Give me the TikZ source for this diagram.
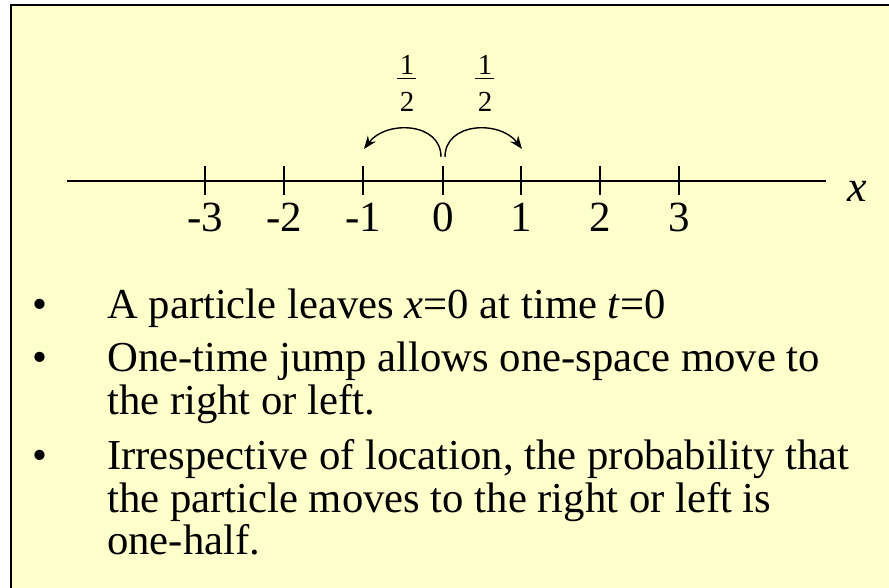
\documentclass[tikz,border=0pt]{standalone}
\usepackage{fontspec}
\setmainfont{Liberation Serif}
\usetikzlibrary{arrows.meta}
\definecolor{bgyellow}{RGB}{255,255,204}
\begin{document}
\begin{tikzpicture}[x=1pt,y=1pt,
  axisline/.style={line width=1.4pt},
  tickmark/.style={line width=1.4pt},
  ticklab/.style={font=\fontsize{43}{43}\selectfont, anchor=base, inner sep=0pt},
  fraclab/.style={font=\fontsize{29}{29}\selectfont, anchor=base, inner sep=0pt},
  fracbar/.style={line width=1pt},
  bodytext/.style={font=\fontsize{42.7}{42}\selectfont, anchor=base west, inner sep=0pt},
  bulletmark/.style={font=\fontsize{42.7}{42}\selectfont, anchor=base, inner sep=0pt},
  jump/.style={line width=1.4pt, -{Stealth[length=13pt,width=10pt]}}
]
\useasboundingbox (0,0) rectangle (889,588);
\fill[white] (0,0) rectangle (889,588);
\draw[fill=bgyellow, line width=2pt] (11,-20) rectangle (910,583);

% axis
\coordinate (axL) at (67,407);
\coordinate (axR) at (826,407);
\draw[axisline] (axL) -- (axR);
\node[font=\fontsize{44}{44}\selectfont\itshape, anchor=base, inner sep=0pt] (xlab) at (857,386) {x};

% ticks and labels
\foreach \v/\px in {-3/205,-2/284,-1/363,0/443,1/521,2/600,3/679}{
  \draw[tickmark] (\px,393) -- (\px,422);
  \node[ticklab] (lab\v) at (\px,356) {\v};
}

% fractions
\node[fraclab] (numL) at (407,513) {1};
\node[fraclab] (denL) at (407,476) {2};
\draw[fracbar] (397,509) -- (416,509);
\node[fraclab] (numR) at (485,513) {1};
\node[fraclab] (denR) at (485,476) {2};
\draw[fracbar] (475,509) -- (494,509);

% jumps
\coordinate (startL) at (441,431);
\coordinate (endL) at (364,439);
\coordinate (startR) at (445,431);
\coordinate (endR) at (522,439);
\draw[jump] (startL) .. controls (441,466) and (386,468) .. (endL);
\draw[jump] (startR) .. controls (445,466) and (500,468) .. (endR);

% bullets
\node[bulletmark] (b1) at (40,269) {•};
\node[bulletmark] (b2) at (40,216) {•};
\node[bulletmark] (b3) at (40,118) {•};

\node[bodytext] (t1) at (107,269) {A particle leaves \textit{x}=0 at time \textit{t}=0};
\node[bodytext] (t2a) at (107,216) {One-time jump allows one-space move to};
\node[bodytext] (t2b) at (107,173) {the right or left.};
\node[bodytext] (t3a) at (107,118) {Irrespective of location, the probability that};
\node[bodytext] (t3b) at (107,75) {the particle moves to the right or left is};
\node[bodytext] (t3c) at (107,33) {one-half.};
\end{tikzpicture}
\end{document}
